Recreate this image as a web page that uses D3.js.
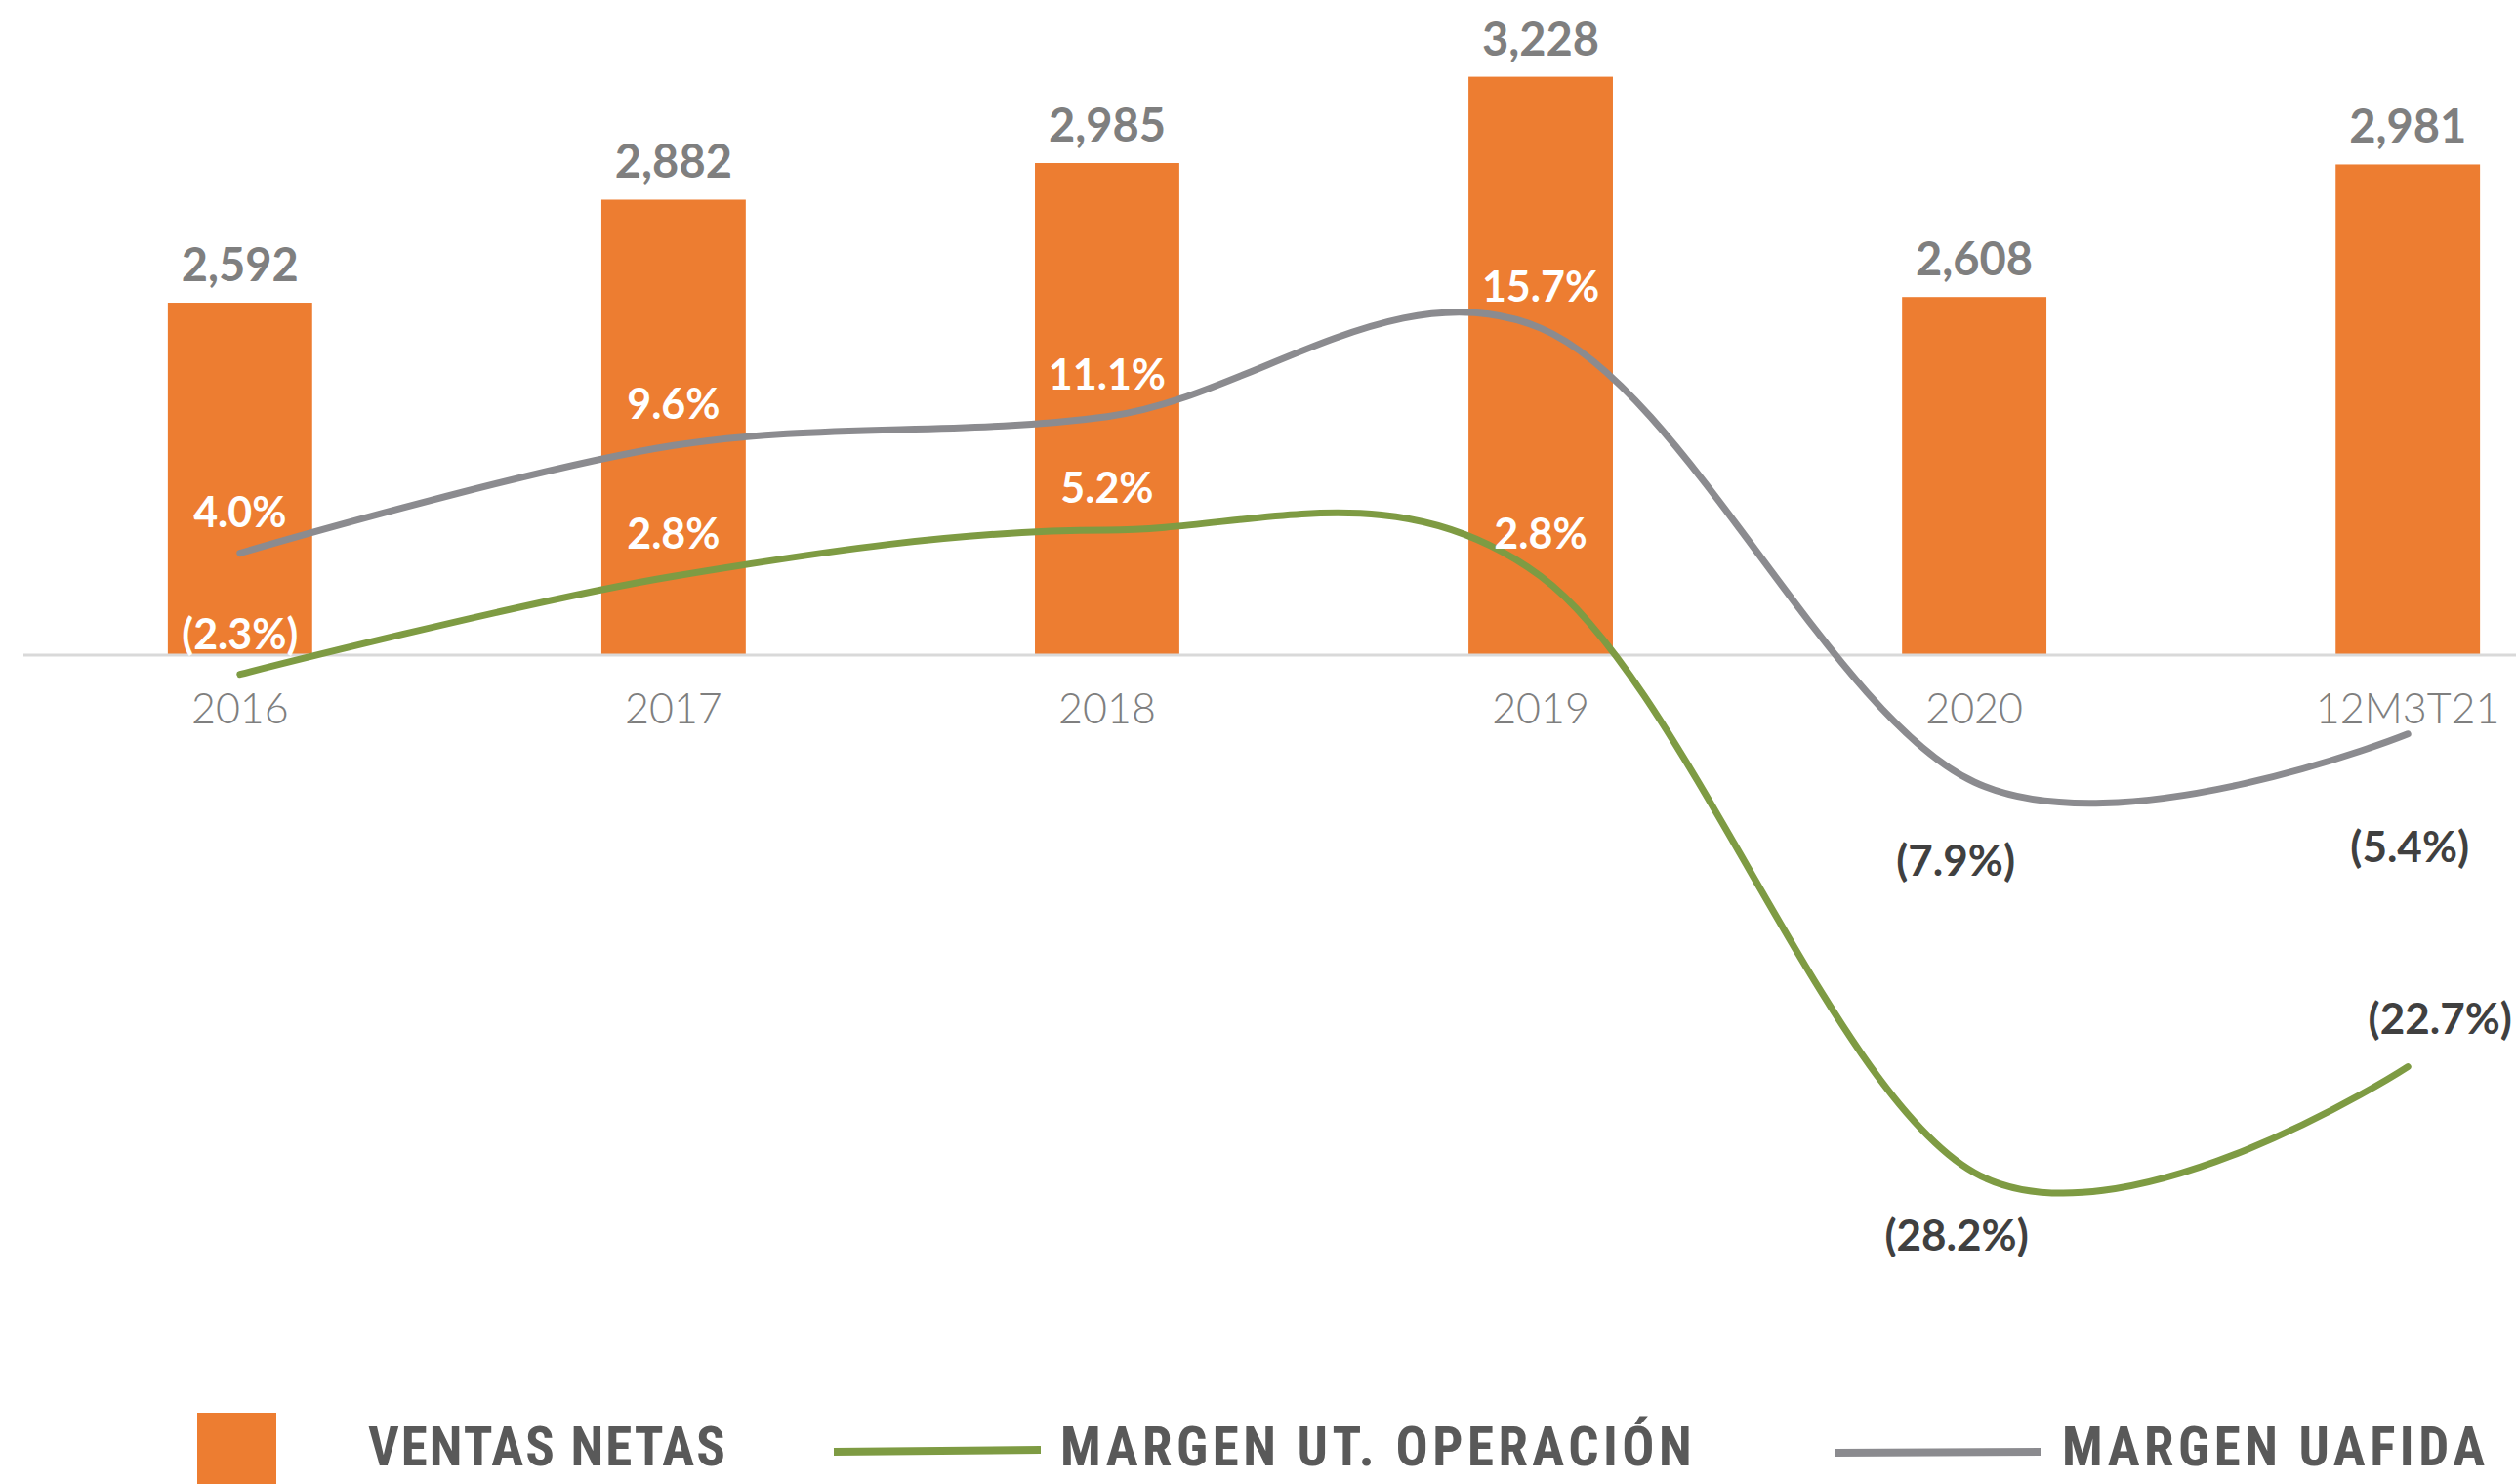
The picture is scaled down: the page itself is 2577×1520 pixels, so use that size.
<!DOCTYPE html>
<html>
<head>
<meta charset="utf-8">
<script src="https://cdn.jsdelivr.net/npm/d3@7"></script>
<style>
  html, body { margin: 0; padding: 0; background: #fff; }
  svg { display: block; }
</style>
</head>
<body>
<svg id="chart" width="2577" height="1520"></svg>
<script>
// data
const categories = ['2016', '2017', '2018', '2019', '2020', '12M3T21'];
const ventasNetas = [2592, 2882, 2985, 3228, 2608, 2981];
const margenOperacion = [-2.3, 2.8, 5.2, 2.8, -28.2, -22.7];
const margenUafida = [4.0, 9.6, 11.1, 15.7, -7.9, -5.4];
const legendLabels = ['VENTAS NETAS', 'MARGEN UT. OPERACIÓN', 'MARGEN UAFIDA'];

// label placement (pixels relative to the point)
const opLabelDy = [-26, -28, -28, -28, 80, -34];
const opLabelDx = [0, 0, 0, 0, -18, 33];
const uaLabelDy = [-27, -27, -28, -27, 96, 131];
const uaLabelDx = [0, 0, 0, 0, -19, 2];

const orange = '#ED7D31', green = '#7E9B43', grey = '#8B8B8F';

let svg = d3.select('#chart'),
    width = +svg.attr('width'),
    height = +svg.attr('height');

let x = d3.scaleBand()
    .domain(categories)
    .range([24, 2688])
    .paddingInner(0.667)
    .paddingOuter(0.333);

let y = d3.scaleLinear()
    .domain([1600, 3400])
    .range([671, 16]);

let y2 = d3.scaleLinear()
    .domain([-30, 20])
    .range([1236.4, 251.4]);

let cx = d => x(d) + x.bandwidth() / 2;

// bars
svg.append('g').selectAll('rect')
    .data(categories)
  .enter().append('rect')
    .attr('x', d => x(d))
    .attr('y', (d, i) => y(ventasNetas[i]))
    .attr('width', x.bandwidth())
    .attr('height', (d, i) => y(1600) - y(ventasNetas[i]))
    .attr('fill', orange);

// category axis
let xAxis = svg.append('g')
    .attr('transform', 'translate(0,' + y(1600) + ')')
    .call(d3.axisBottom(x).tickSize(0).tickPadding(39));
xAxis.select('.domain').remove();
xAxis.append('line')
    .attr('x1', 24).attr('x2', width)
    .attr('stroke', '#D9D9D9').attr('stroke-width', 3);
xAxis.selectAll('text')
    .attr('fill', '#7F7F7F')
    .style('font-family', 'Lato, "Open Sans", sans-serif')
    .style('font-weight', 300)
    .style('font-size', '43px');

// bar values
svg.append('g').selectAll('text')
    .data(categories)
  .enter().append('text')
    .attr('x', d => cx(d))
    .attr('y', (d, i) => y(ventasNetas[i]) - 22)
    .attr('text-anchor', 'middle')
    .attr('fill', '#7F7F7F')
    .style('font-family', 'Lato, sans-serif')
    .style('font-weight', 700)
    .style('font-size', '47px')
    .text((d, i) => d3.format(',')(ventasNetas[i]));

// lines
let line = d3.line()
    .x((d, i) => cx(categories[i]))
    .y(d => y2(d))
    .curve(d3.curveCardinal.tension(0));

svg.append('path')
    .datum(margenUafida)
    .attr('d', line)
    .attr('fill', 'none')
    .attr('stroke', grey)
    .attr('stroke-width', 7)
    .attr('stroke-linecap', 'round');

svg.append('path')
    .datum(margenOperacion)
    .attr('d', line)
    .attr('fill', 'none')
    .attr('stroke', green)
    .attr('stroke-width', 7)
    .attr('stroke-linecap', 'round');

let pct = v => v < 0 ? '(' + Math.abs(v).toFixed(1) + '%)' : v.toFixed(1) + '%';

function pctLabels(values, dxs, dys) {
  svg.append('g').selectAll('text')
      .data(values)
    .enter().append('text')
      .attr('x', (d, i) => cx(categories[i]) + dxs[i])
      .attr('y', (d, i) => y2(d) + dys[i])
      .attr('text-anchor', 'middle')
      .attr('fill', (d, i) => i < 4 ? '#FFFFFF' : '#404040')
      .style('font-family', 'Lato, sans-serif')
      .style('font-weight', 700)
      .style('font-size', (d, i) => i < 4 ? '43px' : '44px')
      .text(d => pct(d));
}
pctLabels(margenUafida, uaLabelDx, uaLabelDy);
pctLabels(margenOperacion, opLabelDx, opLabelDy);

// legend
let legend = svg.append('g');
legend.append('rect')
    .attr('x', 202).attr('y', 1447)
    .attr('width', 81).attr('height', 80)
    .attr('fill', orange);
legend.append('line')
    .attr('x1', 854).attr('x2', 1066)
    .attr('y1', 1487).attr('y2', 1485)
    .attr('stroke', green).attr('stroke-width', 8);
legend.append('line')
    .attr('x1', 1879).attr('x2', 2090)
    .attr('y1', 1488).attr('y2', 1487)
    .attr('stroke', grey).attr('stroke-width', 8);

let legendX = [377, 1086, 2112];
legend.selectAll('text')
    .data(legendLabels)
  .enter().append('text')
    .attr('x', (d, i) => legendX[i])
    .attr('y', 1501)
    .attr('fill', '#595959')
    .style('font-family', '"Liberation Sans Narrow", "Arial Narrow", "Roboto Condensed", sans-serif')
    .style('font-stretch', 'condensed')
    .style('font-weight', 700)
    .style('font-size', '55px')
    .style('letter-spacing', (d, i) => i === 0 ? '2px' : '4.5px')
    .text(d => d);
</script>
</body>
</html>
